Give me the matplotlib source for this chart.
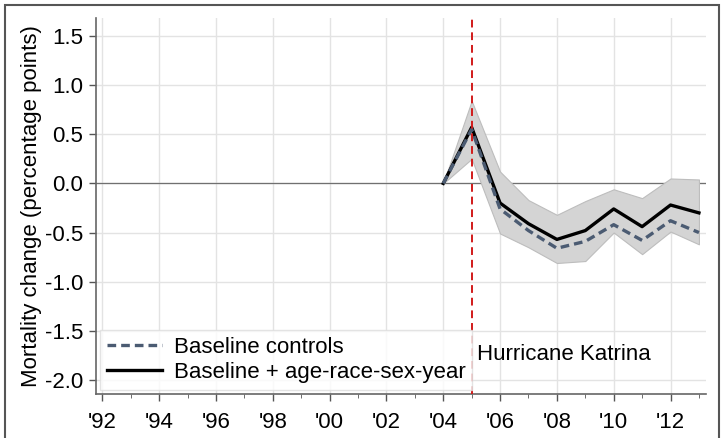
import matplotlib
matplotlib.use('Agg')
import matplotlib.pyplot as plt
from matplotlib.patches import Rectangle
import numpy as np

plt.rcParams['font.family'] = ['Liberation Sans', 'DejaVu Sans']

# data
years = [2004, 2005, 2006, 2007, 2008, 2009, 2010, 2011, 2012, 2013]
baseline = [0.0, 0.55, -0.26, -0.48, -0.66, -0.59, -0.42, -0.58, -0.38, -0.50]
full = [0.0, 0.57, -0.20, -0.41, -0.57, -0.48, -0.26, -0.44, -0.22, -0.30]
ci_hi = [0.0, 0.84, 0.12, -0.17, -0.32, -0.18, -0.06, -0.15, 0.05, 0.04]
ci_lo = [0.0, 0.25, -0.51, -0.65, -0.81, -0.79, -0.50, -0.72, -0.49, -0.62]
xtick_years = list(range(1992, 2013, 2))
xtick_labels = ["'%02d" % (y % 100) for y in xtick_years]
ytick_vals = [1.5, 1.0, 0.5, 0.0, -0.5, -1.0, -1.5, -2.0]

fig = plt.figure(figsize=(7.26, 4.38), dpi=100)
ax = fig.add_axes([0.132, 0.0998, 0.8405, 0.8584])

ax.fill_between(years, ci_lo, ci_hi, color='#d4d4d4', edgecolor='#bdbdbd', linewidth=0.8, zorder=2)
ax.axhline(0, color='#707070', linewidth=0.9, zorder=1)
ax.plot(years, baseline, color='#4b5b72', linestyle=(0, (2.6, 1.5)), linewidth=2.4,
        label='Baseline controls', zorder=4)
ax.plot(years, full, color='black', linewidth=2.4,
        label='Baseline + age-race-sex-year', zorder=3)
ax.axvline(2005, color='#d11a1a', linestyle=(0, (4, 2.5)), linewidth=1.4, zorder=5)
ax.text(2005.2, -1.74, 'Hurricane Katrina', fontsize=16, va='center', ha='left')

ax.set_xlim(1991.77, 2013.25)
ax.set_ylim(-2.146, 1.68)
ax.set_xticks(xtick_years)
ax.set_xticklabels(xtick_labels)
ax.set_xticks(range(1992, 2014), minor=True)
ax.set_yticks(ytick_vals)
ax.set_yticklabels(['%.1f' % v for v in ytick_vals])
ax.tick_params(axis='both', which='major', labelsize=16, length=5, color='#555555', width=1)
ax.tick_params(axis='x', which='minor', length=3, color='#555555')
ax.tick_params(axis='y', pad=4)
ax.tick_params(axis='x', pad=8)

ax.grid(True, which='major', color='#e3e3e3', linewidth=1)
ax.set_axisbelow(True)
for side in ['top', 'right']:
    ax.spines[side].set_visible(False)
for side in ['left', 'bottom']:
    ax.spines[side].set_color('#666666')
    ax.spines[side].set_linewidth(1.2)

ax.set_ylabel('Mortality change (percentage points)', fontsize=16, labelpad=2)

leg = ax.legend(loc='lower left', fontsize=16, frameon=True, fancybox=False,
                handlelength=2.5, borderaxespad=0.2, labelspacing=0.2,
                handletextpad=0.5, borderpad=0.3)
leg.get_frame().set_edgecolor('#dddddd')
leg.get_frame().set_linewidth(1)

# outer frame round the figure
fig.patches.append(Rectangle((5 / 726, -0.01), 714 / 726, 1 - 5 / 438 + 0.01,
                             transform=fig.transFigure, fill=False,
                             edgecolor='#555555', linewidth=1.5))

fig.savefig('out.png', dpi=100)
